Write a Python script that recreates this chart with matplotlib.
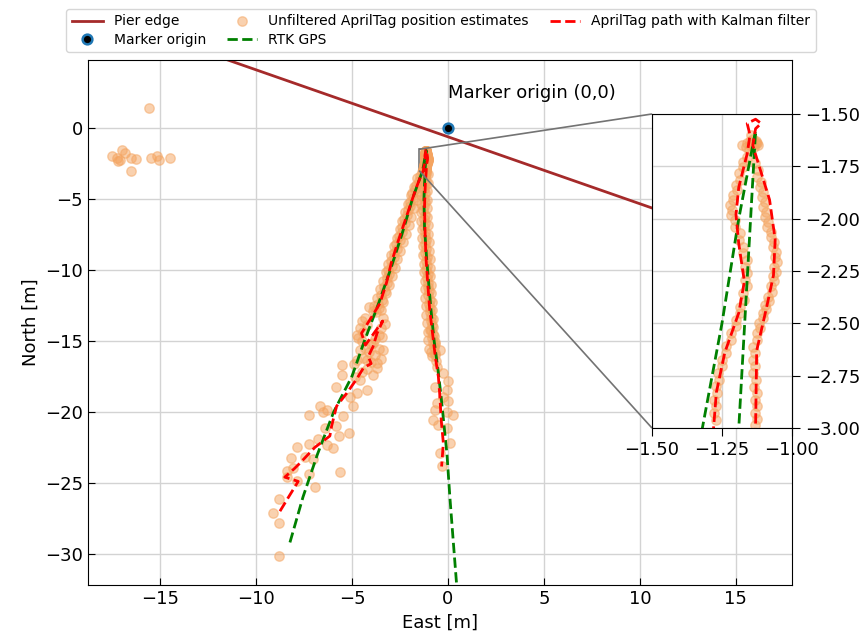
import numpy as np
import matplotlib
matplotlib.use("Agg")
import matplotlib.pyplot as plt
from mpl_toolkits.axes_grid1.inset_locator import mark_inset

# Pier edge (two end points of the straight edge)
pier_e = [-20.0, 20.0]
pier_n = [8.82, -10.06]

# RTK GPS path (east, north)
gps_e = [-8.23, -7.55, -6.8, -5.95, -5.0, -4.35, -3.65, -3.0, -2.4, -1.85, -1.45,
         -1.32, -1.25, -1.19, -1.13,
         -1.19, -1.25, -1.22, -1.12, -1.0, -0.87, -0.72, -0.52, -0.35, -0.2,
         -0.05, 0.1, 0.27, 0.5]
gps_n = [-29.2, -26.0, -23.0, -20.0, -17.5, -15.0, -12.5, -10.0, -7.5, -5.0, -3.5,
         -3.0, -2.5, -2.0, -1.58,
         -3.0, -5.0, -7.0, -9.0, -11.0, -13.0, -15.0, -17.0, -19.0, -21.0,
         -23.0, -26.0, -29.0, -33.0]

# AprilTag path with Kalman filter
kf_e = [-8.75, -8.3, -7.8, -8.5, -8.0, -7.7, -6.93, -6.15, -6.06, -5.8, -5.28,
        -4.76, -4.4, -4.0, -4.15, -3.9, -3.7, -3.4, -4.3, -4.5, -3.97, -3.54,
        -3.2, -2.95, -2.6, -2.3, -2.0, -1.7, -1.45, -1.28, -1.27, -1.24, -1.19,
        -1.17, -1.19, -1.2, -1.19, -1.16, -1.15, -1.16, -1.13, -1.11, -1.13,
        -1.14, -1.08, -1.06, -1.066, -1.09, -1.126, -1.13, -1.18, -1.22, -1.2,
        -1.15, -1.05, -0.95, -0.8, -0.65, -0.5, -0.42, -0.35, -0.24, -0.33]
kf_n = [-27.0, -26.0, -24.9, -24.6, -24.0, -23.6, -22.5, -21.7, -21.0, -19.6, -18.7,
        -17.7, -16.9, -16.6, -16.1, -15.4, -14.5, -13.6, -15.3, -14.46, -13.3, -12.35,
        -10.9, -9.5, -8.0, -6.8, -5.6, -4.4, -3.5, -3.0, -2.83, -2.64, -2.45,
        -2.3, -2.12, -1.98, -1.85, -1.69, -1.6, -1.545, -1.525, -1.545, -1.57,
        -1.65, -1.91, -2.1, -2.27, -2.42, -2.63, -3.0, -4.0, -5.5, -7.0,
        -9.0, -11.0, -12.8, -14.5, -16.2, -17.5, -18.9, -20.6, -22.2, -23.85]

# Unfiltered AprilTag position estimates
raw_e = [
    # stray detections, top left
    -15.55, -17.52, -17.0, -16.82, -17.26, -17.17, -17.08, -16.53, -16.25, -16.53,
    -15.47, -15.17, -15.05, -14.5,
    # near the marker (inset area)
    -1.16, -1.14, -1.13, -1.12, -1.155, -1.145, -1.165, -1.135, -1.18,
    -1.15, -1.13, -1.14, -1.125, -1.15,
    -1.162, -1.174, -1.186, -1.198, -1.21, -1.215, -1.204, -1.186, -1.174, -1.162,
    -1.16, -1.162, -1.171, -1.186, -1.2, -1.219, -1.236, -1.251, -1.26, -1.267,
    -1.271, -1.271,
    -1.176, -1.188, -1.2, -1.212, -1.22, -1.217, -1.203, -1.188, -1.176, -1.169,
    -1.169, -1.174, -1.186, -1.201, -1.218, -1.235, -1.25, -1.263, -1.27, -1.277,
    -1.279,
    -1.132, -1.126, -1.114, -1.108, -1.102, -1.096, -1.088, -1.076, -1.067, -1.061,
    -1.064, -1.069, -1.076, -1.085, -1.096, -1.105, -1.117, -1.126, -1.138, -1.14,
    -1.138, -1.136, -1.132, -1.132, -1.132,
    -1.121, -1.112, -1.103, -1.097, -1.091, -1.084, -1.074, -1.064, -1.056, -1.055,
    -1.058, -1.064, -1.072, -1.082, -1.092, -1.103, -1.114, -1.124, -1.131, -1.131,
    -1.129, -1.126, -1.124, -1.124,
    # left leg, upper part
    -1.35, -1.48, -1.5, -1.68, -1.7, -1.85, -1.8, -1.98, -2.0, -2.1, -2.12, -2.28,
    -2.22, -2.4, -2.38, -2.55, -2.5, -2.68, -2.66, -2.8, -2.82, -2.98, -2.92, -3.1,
    -3.05, -3.2, -3.17, -3.35, -3.3, -3.48, -3.45, -3.62, -3.58, -3.75,
    -1.16, -1.63, -1.31, -1.78, -1.46, -1.93, -1.6, -2.08, -1.75, -2.22, -1.9, -2.37,
    -2.04, -2.52, -2.19, -2.66, -2.34, -2.81, -2.48, -2.96, -2.63, -3.1, -2.78, -3.25,
    -2.93, -3.4, -3.07, -3.55, -3.22, -3.69, -3.37, -3.84, -3.51,
    # left leg, spread around -15 m
    -4.1, -3.9, -4.3, -4.5, -4.2, -4.6, -4.4, -3.4, -3.3, -3.5, -3.6, -3.8, -4.0,
    -4.3, -4.5, -4.7, -4.1, -3.8, -4.4, -4.0, -3.7, -4.2, -4.5, -4.9, -3.6, -3.5,
    # left leg, lower part
    -8.8, -9.13, -8.78, -8.8, -7.88, -6.93, -8.37, -8.37, -8.06, -8.16, -7.88, -7.45,
    -7.22, -7.01, -7.22, -6.75, -6.32, -5.97, -5.63, -6.41, -5.83, -5.66, -5.14, -6.53,
    -7.22, -6.67, -6.28, -5.45, -5.83, -5.54, -5.54, -4.97, -4.76, -4.24, -4.58, -4.84,
    -5.1, -3.92, -4.76, -4.58, -4.76, -4.24, -3.71, -3.89, -3.37, -3.45,
    # right leg
    -1.12, -1.2, -1.15, -1.22, -1.25, -1.2, -1.27, -1.22, -1.25, -1.3, -1.22, -1.25,
    -1.2, -1.26, -1.18, -1.22, -1.15, -1.2, -1.12, -1.18, -1.1, -1.15, -1.08, -1.12,
    -1.05, -1.1, -1.02, -1.06, -0.98, -1.03, -0.95, -1.0, -0.92, -0.95, -0.88, -0.9,
    -0.82, -0.86, -0.78, -0.82, -0.7, -0.75, -0.9, -0.65, -0.6,
    -1.05, -1.35, -1.05, -1.37, -1.07, -1.38, -1.08, -1.4, -1.1, -1.4, -1.08, -1.38,
    -1.05, -1.36, -1.03, -1.34, -1.01, -1.31, -0.98, -1.29, -0.96, -1.27, -0.94, -1.25,
    -0.92, -1.22, -0.9, -1.2, -0.87, -1.18, -0.85, -1.16, -0.83, -1.14, -0.8, -1.1,
    -0.78, -1.06, -0.74, -1.02, -0.7, -0.98, -0.66,
    -0.33, -0.42, 0.1, -0.07, -0.5, -0.76, 0.24, -0.07, -0.68, 0.02, -0.24, -0.07,
    0.02, -0.24, -0.68, -0.59, -0.85, -0.76, -0.94, -0.42, -0.59,
]
raw_n = [
    1.39, -1.97, -1.55, -1.74, -2.14, -2.3, -2.25, -2.14, -2.2, -3.03,
    -2.14, -1.95, -2.25, -2.14,
    -1.64, -1.62, -1.64, -1.65, -1.67, -1.6, -1.66, -1.66, -1.648,
    -1.63, -1.63, -1.65, -1.64, -1.65,
    -1.704, -1.752, -1.815, -1.863, -1.911, -1.958, -2.006, -2.069, -2.133, -2.197,
    -2.26, -2.324, -2.388, -2.451, -2.515, -2.579, -2.642, -2.706, -2.77, -2.833,
    -2.897, -2.961,
    -1.728, -1.784, -1.839, -1.887, -1.935, -1.982, -2.038, -2.101, -2.165, -2.229,
    -2.292, -2.356, -2.42, -2.483, -2.547, -2.61, -2.674, -2.738, -2.8, -2.865,
    -2.929,
    -1.735, -1.799, -1.847, -1.895, -1.942, -1.99, -2.038, -2.086, -2.133, -2.181,
    -2.229, -2.276, -2.324, -2.372, -2.412, -2.451, -2.499, -2.547, -2.611, -2.674,
    -2.738, -2.802, -2.865, -2.929, -2.985,
    -1.767, -1.823, -1.871, -1.918, -1.966, -2.014, -2.062, -2.11, -2.157, -2.205,
    -2.253, -2.3, -2.348, -2.392, -2.432, -2.475, -2.523, -2.579, -2.642, -2.706,
    -2.77, -2.834, -2.897, -2.957,
    -3.1, -3.4, -3.7, -4.0, -4.3, -4.6, -4.9, -5.2, -5.5, -5.8, -6.1, -6.4,
    -6.7, -7.0, -7.3, -7.6, -7.9, -8.2, -8.5, -8.8, -9.1, -9.4, -9.7, -10.0,
    -10.3, -10.6, -10.9, -11.2, -11.5, -11.8, -12.1, -12.4, -12.7, -13.0,
    -3.25, -3.55, -3.85, -4.15, -4.45, -4.75, -5.05, -5.35, -5.65, -5.95, -6.25, -6.55,
    -6.85, -7.15, -7.45, -7.75, -8.05, -8.35, -8.65, -8.95, -9.25, -9.55, -9.85, -10.15,
    -10.45, -10.75, -11.05, -11.35, -11.65, -11.95, -12.25, -12.55, -12.85,
    -12.6, -12.9, -13.4, -13.6, -13.9, -14.1, -14.4, -13.4, -13.8, -14.1, -14.6, -14.9, -15.2,
    -15.5, -15.0, -14.8, -15.8, -16.0, -16.2, -16.5, -16.9, -17.0, -17.2, -16.6, -15.6, -16.3,
    -30.19, -27.14, -27.8, -26.15, -24.9, -25.3, -24.2, -24.56, -23.97, -23.26, -22.49, -23.19,
    -24.37, -23.33, -22.25, -21.92, -22.32, -22.56, -24.23, -21.15, -21.03, -21.69, -21.46, -19.98,
    -20.21, -19.62, -19.86, -20.28, -18.22, -17.39, -16.69, -19.62, -18.68, -18.45, -17.75, -17.51,
    -18.92, -17.39, -16.34, -15.63, -14.58, -16.34, -16.57, -15.16, -15.63, -14.7,
    -3.1, -3.4, -3.7, -4.0, -4.3, -4.6, -4.9, -5.2, -5.5, -5.8, -6.1, -6.4,
    -6.7, -7.0, -7.3, -7.6, -7.9, -8.2, -8.5, -8.8, -9.1, -9.4, -9.7, -10.0,
    -10.3, -10.6, -10.9, -11.2, -11.5, -11.8, -12.1, -12.4, -12.7, -13.0, -13.3, -13.6,
    -13.9, -14.2, -14.5, -14.8, -15.1, -15.4, -15.8, -16.0, -16.4,
    -3.25, -3.55, -3.85, -4.15, -4.45, -4.75, -5.05, -5.35, -5.65, -5.95, -6.25, -6.55,
    -6.85, -7.15, -7.45, -7.75, -8.05, -8.35, -8.65, -8.95, -9.25, -9.55, -9.85, -10.15,
    -10.45, -10.75, -11.05, -11.35, -11.65, -11.95, -12.25, -12.55, -12.85, -13.15, -13.45, -13.75,
    -14.05, -14.35, -14.65, -14.95, -15.25, -15.55, -15.85,
    -23.85, -22.91, -22.2, -21.15, -20.92, -20.56, -20.21, -19.98, -19.86, -19.27, -18.92, -18.45,
    -17.86, -17.27, -18.22, -16.81, -16.1, -15.16, -14.23, -15.63, -19.39,
]


def draw(ax):
    ax.plot(pier_e, pier_n, color='brown', lw=2, label='Pier edge')
    ax.plot(0, 0, 'o', mfc='black', mec='#1f77b4', ms=7, mew=1.8,
            label='Marker origin', zorder=5)
    ax.plot(raw_e, raw_n, 'o', color='sandybrown', alpha=0.5, ms=6.8,
            linestyle='none', label='Unfiltered AprilTag position estimates')
    ax.plot(gps_e, gps_n, '--', color='green', lw=2, label='RTK GPS')
    ax.plot(kf_e, kf_n, '--', color='red', lw=2,
            label='AprilTag path with Kalman filter')
    ax.grid(True, color='#d3d3d3', lw=1)
    ax.set_axisbelow(True)


fig = plt.figure(figsize=(8.6, 6.39), dpi=100)
ax = fig.add_axes([0.1023, 0.0845, 0.8186, 0.8216])
draw(ax)
ax.set_xlim(-18.75, 17.92)
ax.set_ylim(-32.2, 4.79)
ax.set_xticks([-15, -10, -5, 0, 5, 10, 15])
ax.set_yticks([0, -5, -10, -15, -20, -25, -30])
ax.tick_params(direction='in', labelsize=13, length=5)
ax.set_xlabel('East [m]', fontsize=13)
ax.set_ylabel('North [m]', fontsize=13)
ax.text(0, 2.45, 'Marker origin (0,0)', fontsize=13, va='center', ha='left')

axins = fig.add_axes([0.7581, 0.3302, 0.1628, 0.4914])
draw(axins)
axins.set_xlim(-1.5, -1.0)
axins.set_ylim(-3.0, -1.5)
axins.set_xticks([-1.5, -1.25, -1.0])
axins.set_yticks([-1.5, -1.75, -2.0, -2.25, -2.5, -2.75, -3.0])
axins.yaxis.tick_right()
axins.tick_params(labelsize=13, length=6)
mark_inset(ax, axins, loc1=2, loc2=3, fc='none', ec='0.45', lw=1.2)

handles, labels = ax.get_legend_handles_labels()
fig.legend(handles, labels, loc='upper center', bbox_to_anchor=(0.513, 0.997),
           ncol=3, fontsize=10, handlelength=2.2, columnspacing=1.5,
           borderpad=0.4, labelspacing=0.3)

fig.savefig('out.png', dpi=100)
